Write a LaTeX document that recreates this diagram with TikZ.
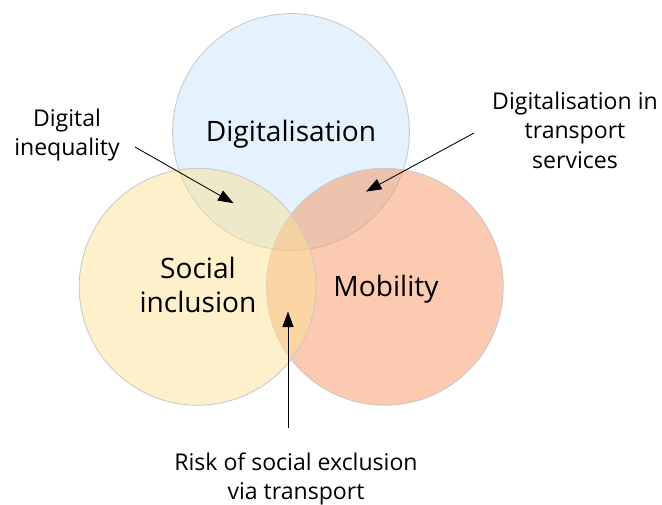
\documentclass[tikz,border=0pt]{standalone}
\usepackage{fontspec}
\setmainfont{Open Sans}
\usetikzlibrary{arrows.meta}
\definecolor{digiblue}{RGB}{199,229,249}
\definecolor{socyellow}{RGB}{251,225,151}
\definecolor{mobsalmon}{RGB}{249,149,97}
\definecolor{rimgray}{RGB}{200,200,200}

\begin{document}
\begin{tikzpicture}[
  venn/.style={draw=rimgray, line width=0.6pt, fill opacity=0.5},
  biglabel/.style={align=center, font=\fontsize{20}{24}\selectfont},
  smalllabel/.style={align=center, font=\fontsize{16.4}{21}\selectfont},
  pointer/.style={line width=0.6pt, -{Triangle[length=11pt,width=8pt]}}
]
\useasboundingbox (0,0) rectangle (16.55,12.6);

%DIGITALISATION
\draw[venn, fill=digiblue] (7.275,9.3) circle (2.96);
%MOBILITY
\draw[venn, fill=mobsalmon] (9.62,5.43) circle (2.96);
%SOCIAL INCLUSION
\draw[venn, fill=socyellow] (4.94,5.43) circle (2.96);

\node (digi) at (7.275,9.06) [biglabel, anchor=base] {Digitalisation};
\node (mob) at (9.65,5.2) [biglabel, anchor=base] {Mobility};
\node (soc) at (4.95,5.48) [biglabel] {Social\\inclusion};

%LABELS
\node (dineq) at (1.675,9.23) [smalllabel] {Digital\\inequality};
\node (dtrans) at (14.375,9.345) [smalllabel] {Digitalisation in\\transport\\services};
\node (risk) at (7.4,0.63) [smalllabel] {Risk of social exclusion\\via transport};

%ARROWS
\coordinate (ineqtail) at (3.375,8.925);
\coordinate (ineqtip) at (5.84,7.52);
\coordinate (transtail) at (11.85,9.275);
\coordinate (transtip) at (9.15,7.81);
\coordinate (risktail) at (7.2,1.89);
\coordinate (risktip) at (7.2,4.81);
\draw[pointer] (ineqtail) -- (ineqtip);
\draw[pointer] (transtail) -- (transtip);
\draw[pointer] (risktail) -- (risktip);
\end{tikzpicture}
\end{document}
